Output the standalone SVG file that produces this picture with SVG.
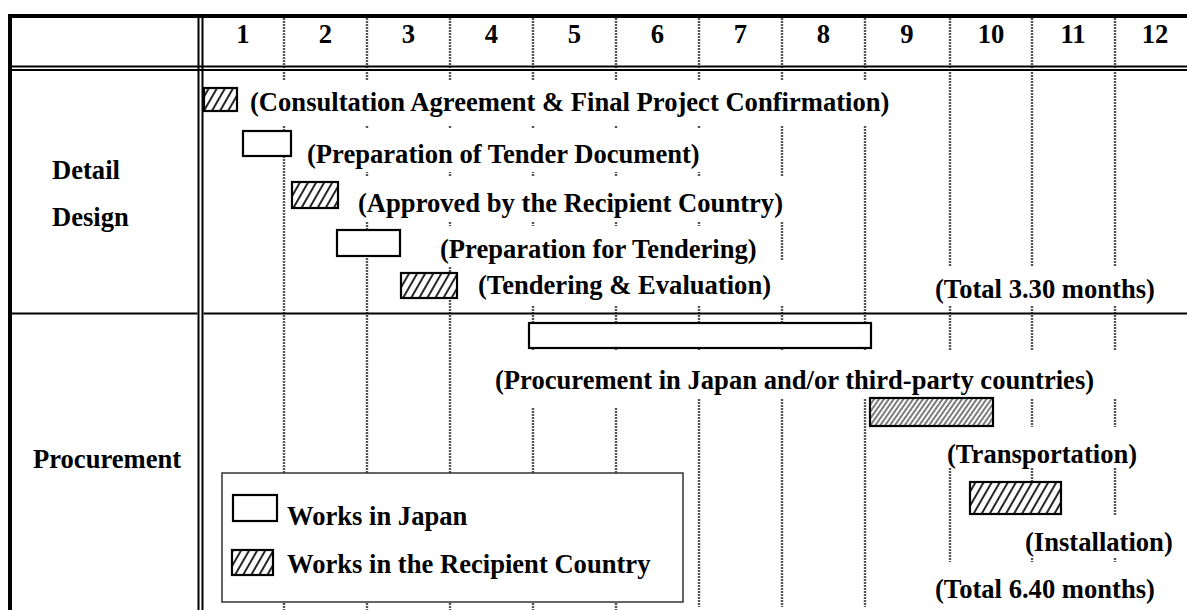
<svg xmlns="http://www.w3.org/2000/svg" width="1187" height="610" viewBox="0 0 1187 610">
<style>
text{font-family:"Liberation Serif","Times New Roman",serif;font-weight:bold;font-size:26.6px;fill:#000}
.hd{text-anchor:middle}
.grid line{stroke:#555;stroke-width:2.4;stroke-dasharray:2 1}
.mask{fill:#fff}
.frame{stroke:#000;stroke-width:2;fill:none}
.open{fill:#fff;stroke:#000;stroke-width:2.2}
.hatch{fill:url(#hatch);stroke:#000;stroke-width:2.2}
.hatch2{fill:url(#hatchGray);stroke:#000;stroke-width:2.2}
.legendbox{fill:#fff;stroke:#333;stroke-width:1.5}
</style>
<defs>
<pattern id="hatch" patternUnits="userSpaceOnUse" width="7" height="7" patternTransform="rotate(30)">
<rect width="7" height="7" fill="#fff"/>
<line x1="1" y1="0" x2="1" y2="7" stroke="#000" stroke-width="1.7"/>
</pattern>
<pattern id="hatchGray" patternUnits="userSpaceOnUse" width="4" height="4" patternTransform="rotate(35)">
<rect width="4" height="4" fill="#fff"/>
<line x1="1" y1="0" x2="1" y2="4" stroke="#444" stroke-width="1.4"/>
</pattern>
</defs>
<rect width="1187" height="610" fill="#fff"/>

<g id="grid" class="grid">
<line x1="284" y1="18" x2="284" y2="610"/>
<line x1="367" y1="18" x2="367" y2="610"/>
<line x1="450" y1="18" x2="450" y2="610"/>
<line x1="533" y1="18" x2="533" y2="610"/>
<line x1="616" y1="18" x2="616" y2="610"/>
<line x1="699" y1="18" x2="699" y2="607"/>
<line x1="782" y1="18" x2="782" y2="607"/>
<line x1="865" y1="18" x2="865" y2="607"/>
<line x1="950" y1="18" x2="950" y2="610"/>
<line x1="1032" y1="18" x2="1032" y2="610"/>
<line x1="1115" y1="18" x2="1115" y2="610"/>
</g>

<g id="masks" class="mask">
<rect x="203" y="80" width="702" height="45"/>
<rect x="300" y="128" width="415" height="44"/>
<rect x="300" y="176" width="490" height="46"/>
<rect x="420" y="226" width="350" height="41"/>
<rect x="470" y="260" width="330" height="45"/>
<rect x="900" y="267" width="287" height="38"/>
<rect x="490" y="350" width="697" height="48"/>
<rect x="490" y="398" width="200" height="10"/>
<rect x="900" y="427" width="287" height="41"/>
<rect x="1000" y="515" width="187" height="43"/>
<rect x="900" y="562" width="287" height="48"/>
</g>

<g id="frame">
<rect x="8" y="14" width="1179" height="4" fill="#000"/>
<rect x="8" y="14" width="4" height="596" fill="#000"/>
<line class="frame" x1="12" y1="66.5" x2="1187" y2="66.5"/>
<line class="frame" x1="12" y1="70" x2="1187" y2="70"/>
<line class="frame" x1="198.5" y1="18" x2="198.5" y2="610"/>
<line class="frame" x1="202.5" y1="18" x2="202.5" y2="610"/>
<line class="frame" x1="12" y1="313.5" x2="197.5" y2="313.5"/>
<line class="frame" x1="203.5" y1="313.5" x2="1187" y2="313.5"/>
</g>

<g id="header">
<text class="hd" x="243" y="43">1</text>
<text class="hd" x="325.5" y="43">2</text>
<text class="hd" x="408.5" y="43">3</text>
<text class="hd" x="491.5" y="43">4</text>
<text class="hd" x="574.5" y="43">5</text>
<text class="hd" x="657.5" y="43">6</text>
<text class="hd" x="740.5" y="43">7</text>
<text class="hd" x="823.5" y="43">8</text>
<text class="hd" x="907" y="43">9</text>
<text class="hd" x="991" y="43">10</text>
<text class="hd" x="1073" y="43">11</text>
<text class="hd" x="1155" y="43">12</text>
</g>

<g id="row-labels">
<text x="52" y="179">Detail</text>
<text x="52" y="226">Design</text>
<text x="33" y="468">Procurement</text>
</g>

<g id="task-consultation">
<rect class="hatch" x="204" y="88" width="33" height="23"/>
<text x="250" y="111">(Consultation Agreement &amp; Final Project Confirmation)</text>
</g>
<g id="task-tender-document">
<rect class="open" x="243" y="131" width="48" height="25"/>
<text x="307" y="163">(Preparation of Tender Document)</text>
</g>
<g id="task-approval">
<rect class="hatch" x="292" y="182" width="46" height="26"/>
<text x="358" y="212">(Approved by the Recipient Country)</text>
</g>
<g id="task-prep-tendering">
<rect class="open" x="337" y="230" width="63" height="26"/>
<text x="440" y="258">(Preparation for Tendering)</text>
</g>
<g id="task-tendering">
<rect class="hatch" x="401" y="273" width="56" height="25"/>
<text x="478" y="294">(Tendering &amp; Evaluation)</text>
</g>
<g id="total-detail">
<text x="935" y="298">(Total 3.30 months)</text>
</g>

<g id="task-procurement">
<rect class="open" x="529" y="323" width="342" height="25"/>
<text x="495" y="389">(Procurement in Japan and/or third-party countries)</text>
</g>
<g id="task-transportation">
<rect class="hatch2" x="870" y="398" width="123" height="28"/>
<text x="947" y="463">(Transportation)</text>
</g>
<g id="task-installation">
<rect class="hatch" x="970" y="482" width="91" height="32"/>
<text x="1025" y="551">(Installation)</text>
</g>
<g id="total-procurement">
<text x="935" y="598">(Total 6.40 months)</text>
</g>

<g id="legend">
<rect class="legendbox" x="222" y="473" width="461" height="129"/>
<rect class="open" x="233" y="495" width="44" height="26"/>
<text x="287" y="525">Works in Japan</text>
<rect class="hatch" x="232" y="550" width="41" height="25"/>
<text x="287" y="573">Works in the Recipient Country</text>
</g>
</svg>
